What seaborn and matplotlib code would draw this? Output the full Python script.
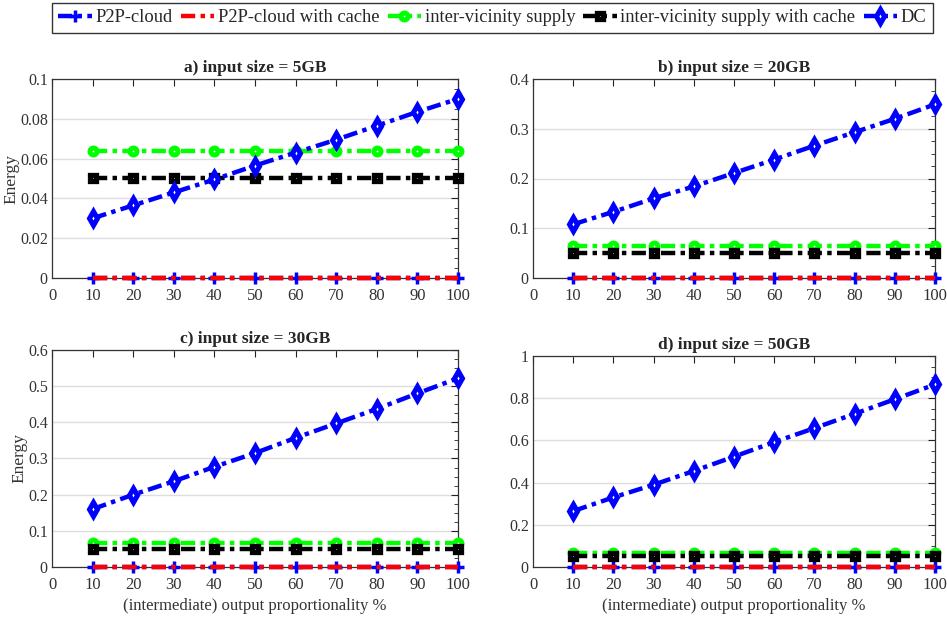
import numpy as np
import pandas as pd
import matplotlib
matplotlib.use("Agg")
import matplotlib.pyplot as plt
import seaborn as sns
from matplotlib.ticker import AutoMinorLocator, MultipleLocator

sns.set_theme(style="white")
plt.rcParams['font.family'] = ['Liberation Serif', 'DejaVu Serif']
plt.rcParams['mathtext.fontset'] = 'stix'

x = [10, 20, 30, 40, 50, 60, 70, 80, 90, 100]
series_names = ["P2P-cloud", "P2P-cloud with cache", "inter-vicinity supply",
                "inter-vicinity supply with cache", "DC"]
titles = ["a) input size = 5GB", "b) input size = 20GB",
          "c) input size = 30GB", "d) input size = 50GB"]

p2p_a = [0] * 10
p2pc_a = [0] * 10
iv_a = [0.064] * 10
ivc_a = [0.0505] * 10
dc_a = [0.030, 0.0365, 0.043, 0.0495, 0.0565, 0.063, 0.0695, 0.0765, 0.0835, 0.090]

p2p_b = [0] * 10
p2pc_b = [0] * 10
iv_b = [0.065] * 10
ivc_b = [0.051] * 10
dc_b = [0.108, 0.133, 0.160, 0.184, 0.211, 0.238, 0.266, 0.293, 0.320, 0.349]

p2p_c = [0] * 10
p2pc_c = [0] * 10
iv_c = [0.065] * 10
ivc_c = [0.050] * 10
dc_c = [0.160, 0.200, 0.237, 0.277, 0.315, 0.357, 0.397, 0.437, 0.480, 0.522]

p2p_d = [0] * 10
p2pc_d = [0] * 10
iv_d = [0.065] * 10
ivc_d = [0.052] * 10
dc_d = [0.265, 0.330, 0.390, 0.455, 0.523, 0.592, 0.658, 0.726, 0.795, 0.865]

panels = [
    (p2p_a, p2pc_a, iv_a, ivc_a, dc_a),
    (p2p_b, p2pc_b, iv_b, ivc_b, dc_b),
    (p2p_c, p2pc_c, iv_c, ivc_c, dc_c),
    (p2p_d, p2pc_d, iv_d, ivc_d, dc_d),
]
ylims = [(0, 0.1, 0.02), (0, 0.4, 0.1), (0, 0.6, 0.1), (0, 1.0, 0.2)]

styles = {
    "P2P-cloud": dict(color="#0000ff", marker="+", ms=9, mfc="#0000ff", mew=2.5),
    "P2P-cloud with cache": dict(color="#ff0000", marker=None, ms=0, mfc="none", mew=0),
    "inter-vicinity supply": dict(color="#00ff00", marker="o", ms=5, mfc="white", mew=3.6),
    "inter-vicinity supply with cache": dict(color="#000000", marker="s", ms=4.8, mfc="white", mew=3.8),
    "DC": dict(color="#0000ff", marker="d", ms=7.5, mfc="white", mew=3.6),
}
zorders = {"P2P-cloud": 3, "P2P-cloud with cache": 4, "inter-vicinity supply": 3,
           "inter-vicinity supply with cache": 3, "DC": 5}

fig = plt.figure(figsize=(9.47, 6.21), dpi=100)
W, H = 947, 621
rects = [(52, 79, 458, 278), (533, 79, 935, 278), (52, 350, 458, 567), (533, 356, 935, 567)]
ylabel_x = [19, None, 27, None]

handles = []
for i, (vals, r) in enumerate(zip(panels, rects)):
    l, t, rr, b = r
    ax = fig.add_axes([l / W, 1 - b / H, (rr - l) / W, (b - t) / H])
    for name, v in zip(series_names, vals):
        df = pd.DataFrame({"x": x, "y": v})
        st = styles[name]
        sns.lineplot(data=df, x="x", y="y", ax=ax, color=st["color"], linewidth=3.2,
                     linestyle=(0, (3.2, 1.2, 1, 1.2)), marker=st["marker"] if st["marker"] else None,
                     markersize=st["ms"], markerfacecolor=st["mfc"], markeredgecolor=st["color"],
                     markeredgewidth=st["mew"], zorder=zorders[name], label=name, legend=False,
                     clip_on=False)
    lo, hi, step = ylims[i]
    ax.set_xlim(0, 100)
    ax.set_ylim(lo, hi)
    ax.xaxis.set_major_locator(MultipleLocator(10))
    ax.yaxis.set_major_locator(MultipleLocator(step))
    ax.yaxis.set_minor_locator(AutoMinorLocator(4))
    ax.yaxis.grid(True, color="#dddddd", linewidth=1)
    ax.set_axisbelow(True)
    ax.tick_params(axis="both", which="both", direction="in", top=True, right=True,
                   labelsize=11.5, colors="#222222", labelcolor="#333333", pad=3)
    ax.tick_params(which="major", length=5, width=0.8)
    ax.tick_params(which="minor", length=3, width=0.6)
    ax.tick_params(axis="x", pad=7, labelsize=12)
    fmt = (lambda v, p: "0" if v == 0 else ("%g" % v))
    ax.yaxis.set_major_formatter(matplotlib.ticker.FuncFormatter(fmt))
    for s in ax.spines.values():
        s.set_color("#333333")
        s.set_linewidth(0.9)
    ax.set_title(titles[i], fontsize=12.5, fontweight="bold", pad=5)
    ax.set_xlabel("(intermediate) output proportionality %" if i >= 2 else "",
                  fontsize=12, color="#333333", labelpad=4)
    if ylabel_x[i] is not None:
        ax.set_ylabel("Energy", fontsize=12.5, color="#333333")
        ax.yaxis.set_label_coords((ylabel_x[i] - l) / (rr - l), 0.5)
    else:
        ax.set_ylabel("")
    if i == 0:
        handles = ax.get_lines()[:5]

leg = fig.legend(handles, series_names, loc="upper left", bbox_to_anchor=(52 / W, 1 - 3 / H),
                 ncol=5, frameon=True, fancybox=False, fontsize=13.3, handlelength=1.8,
                 handletextpad=0.2, columnspacing=0.45, borderpad=0.35, edgecolor="black",
                 borderaxespad=0)
leg.get_frame().set_linewidth(1.0)

fig.savefig("out.png", dpi=100)
